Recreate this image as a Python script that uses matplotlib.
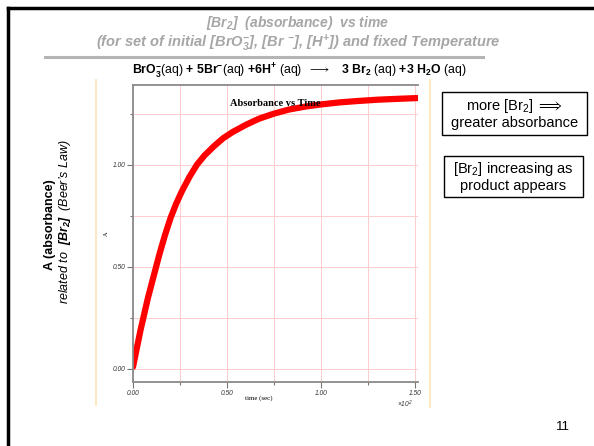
import matplotlib.pyplot as plt
from matplotlib.lines import Line2D
from matplotlib.patches import Rectangle
from matplotlib.ticker import MultipleLocator, FixedLocator

plt.rcParams['font.family'] = ['Liberation Sans', 'DejaVu Sans']
plt.rcParams['mathtext.fontset'] = 'custom'
plt.rcParams['mathtext.rm'] = 'Liberation Sans'
plt.rcParams['mathtext.it'] = 'Liberation Sans:italic'
plt.rcParams['mathtext.bf'] = 'Liberation Sans:bold'
plt.rcParams['mathtext.sf'] = 'Liberation Sans:bold:italic'
plt.rcParams['mathtext.default'] = 'regular'

# absorbance readings (time in units of 10^2 s)
time = [0.0, 0.02, 0.04, 0.06, 0.08, 0.10, 0.12, 0.14, 0.17, 0.20, 0.23, 0.26,
        0.30, 0.34, 0.38, 0.43, 0.48, 0.53, 0.60, 0.67, 0.75, 0.83, 0.92, 1.00,
        1.10, 1.20, 1.30, 1.40, 1.51]
absorb = [0.01, 0.10, 0.19, 0.27, 0.35, 0.42, 0.49, 0.56, 0.655, 0.74, 0.81, 0.87,
          0.94, 1.00, 1.045, 1.09, 1.13, 1.16, 1.195, 1.225, 1.25, 1.27, 1.285, 1.295,
          1.305, 1.312, 1.318, 1.322, 1.326]

x_major = [0.0, 0.5, 1.0, 1.5]
x_labels = ['0.00', '0.50', '1.00', '1.50']
y_major = [0.0, 0.5, 1.0]
y_labels = ['0.00', '0.50', '1.00']

W, H = 594, 446
fig = plt.figure(figsize=(W / 100, H / 100), dpi=100)


def fx(px):
    return px / W


def fy(py):
    return 1 - py / H


# slide frame
fig.add_artist(Line2D([fx(8), fx(8)], [fy(8), 0], color='black', lw=2.5))
fig.add_artist(Line2D([fx(8), 1], [fy(8), fy(8)], color='black', lw=2.5))
# gray rule under title
fig.add_artist(Line2D([fx(45), fx(483)], [fy(57), fy(57)], color='#b4b4b4', lw=2.2))
# peach guide lines
fig.add_artist(Line2D([fx(96), fx(96)], [fy(80), fy(405)], color='#fde8c6', lw=1.5))
fig.add_artist(Line2D([fx(430), fx(430)], [fy(80), fy(407)], color='#fde8c6', lw=1.5))

# titles
fig.text(fx(297), fy(23), r'[Br$_2$]  (absorbance)  vs time', ha='center', va='center',
         fontsize=10, fontweight='bold', style='italic', color='#a6a6a6')
fig.text(fx(298), fy(43), r'(for set of initial [BrO$_3^{-}$], [Br $^{-}$], [H$^{+}$]) and fixed Temperature',
         ha='center', va='center', fontsize=10.5, fontweight='bold', style='italic', color='#a6a6a6')

eq = (r'$\mathbf{BrO_3^{-}}$(aq) $\mathbf{+\ 5Br^{-}}$(aq) $\mathbf{+6H^{+}}$ (aq)  '
      r'$\longrightarrow$   $\mathbf{3\ Br_2}$ (aq) $\mathbf{+3\ H_2O}$ (aq)')
fig.text(fx(299), fy(71), eq, ha='center', va='center', fontsize=8.8)

# left labels
fig.text(fx(50), fy(225), 'A (absorbance)', rotation=90, ha='center', va='center',
         fontsize=9, fontweight='bold')
fig.text(fx(65), fy(222), r'related to  $\mathsf{[Br_2]}$  (Beer’s Law)', rotation=90,
         ha='center', va='center', fontsize=9, style='italic')

# right boxes
for x0, y0, x1, y1 in [(442, 92, 587, 135), (444, 156, 583, 197)]:
    fig.add_artist(Rectangle((fx(x0), fy(y1)), fx(x1) - fx(x0), (y1 - y0) / H,
                             transform=fig.transFigure, facecolor='white',
                             edgecolor='black', lw=1))
fig.text(fx(514.5), fy(113.5), 'more [Br$_2$] $\\Longrightarrow$\ngreater absorbance',
         ha='center', va='center', fontsize=10.5, linespacing=1.1)
fig.text(fx(513.5), fy(176.5), '[Br$_2$] increasing as\nproduct appears',
         ha='center', va='center', fontsize=10.5, linespacing=1.1)

fig.text(fx(563), fy(427), '11', ha='center', va='center', fontsize=9.5)

# the plot
ax = fig.add_axes([fx(133), fy(382), fx(418) - fx(133), (382 - 85) / H])
ax.plot(time, absorb, color='red', lw=4.5, solid_capstyle='round')
ax.set_xlim(0, 1.515)
ax.set_ylim(-0.064, 1.39)
ax.xaxis.set_major_locator(FixedLocator(x_major))
ax.xaxis.set_minor_locator(MultipleLocator(0.25))
ax.yaxis.set_major_locator(FixedLocator(y_major))
ax.yaxis.set_minor_locator(MultipleLocator(0.25))
ax.set_xticklabels(x_labels, fontsize=4.8, style='italic', color='#333333')
ax.set_yticklabels(y_labels, fontsize=4.8, style='italic', color='#333333')
ax.tick_params(which='both', direction='out', color='#777777', width=0.8, pad=1.5)
ax.tick_params(which='major', length=4)
ax.tick_params(which='minor', length=2.5)
ax.grid(which='both', color='#ffcccc', lw=0.7)
ax.set_axisbelow(True)
for s in ['left', 'bottom', 'top']:
    ax.spines[s].set_color('#8a8a8a')
    ax.spines[s].set_linewidth(1.3)
ax.spines['right'].set_visible(False)
ax.set_xlabel('time (sec)', fontsize=5, family='Liberation Serif')
ax.xaxis.set_label_coords(0.44, -0.045)
ax.set_ylabel('A', fontsize=4.5, family='Liberation Serif')
ax.yaxis.set_label_coords(-0.085, 0.5)
ax.text(0.50, 0.937, 'Absorbance vs Time', transform=ax.transAxes, ha='center', va='center',
        fontsize=7.5, fontweight='bold', family='Liberation Serif')
ax.text(1.445, -0.175, r'×10$^{2}$', ha='center', va='center', fontsize=4.8, style='italic',
        color='#333333')

fig.savefig('out.png', dpi=100)
